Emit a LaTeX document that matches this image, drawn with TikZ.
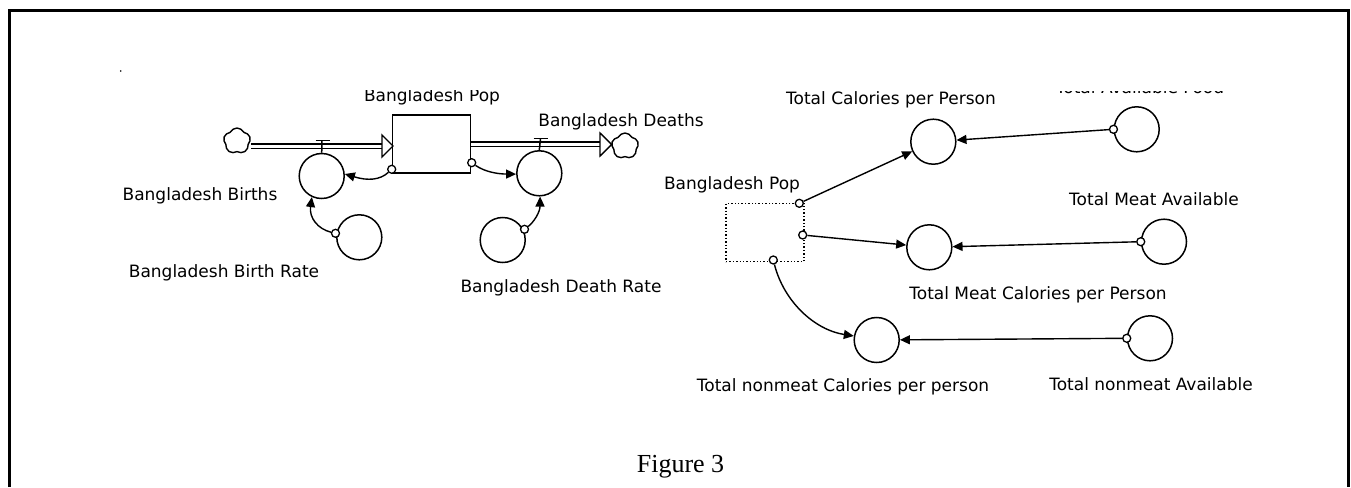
\documentclass[tikz,border=0pt]{standalone}
\usepackage{fontspec}
\setmainfont{Liberation Serif}
\newfontfamily\labfont{DejaVu Sans}
\usetikzlibrary{arrows.meta,shapes.symbols}
\begin{document}
\begin{tikzpicture}[x=1pt,y=-1pt,
  aux/.style={circle,draw,line width=1.5pt,minimum size=45pt,inner sep=0pt},
  port/.style={circle,draw,line width=1.3pt,minimum size=8pt,inner sep=0pt,fill=white},
  conn/.style={line width=1.4pt,-{Triangle[length=10pt,width=9pt]}},
  lab/.style={font=\labfont\fontsize{17}{20}\selectfont,inner sep=0pt,anchor=base},
  pipe/.style={double,double distance=3pt,line width=1.4pt},
  openhead/.style={line width=1.4pt,fill=white},
  cloudy/.style={cloud,cloud puffs=5,cloud puff arc=130,aspect=1,draw,line width=1.4pt,minimum width=27pt,minimum height=26pt,inner sep=0pt},
  stockbox/.style={draw,line width=1.5pt,minimum width=78pt,minimum height=58pt,inner sep=0pt},
  ghostbox/.style={draw,dotted,line width=1.4pt,minimum width=78pt,minimum height=58pt,inner sep=0pt}]
\useasboundingbox (0,0) rectangle (1351,487);
\fill[white] (0,0) rectangle (1351,487);
% frame
\draw[line width=3pt] (9.5,487) -- (9.5,10.5) -- (1348,10.5) -- (1348,487);
\fill (120.7,71) circle (0.9pt);

% ---------- stock and flow part ----------
\node[stockbox] (stock) at (431.5,144.2) {};
\node[lab] (stocklab) at (432,101) {Bangladesh Pop};
\fill[white] (340,75) rectangle (530,90);

\node[cloudy] (src) at (237,141) {};
\node[cloudy] (sink) at (625,146) {};

% inflow
\coordinate (inA) at (382,146);
\draw[pipe] (src.east |- inA) -- (inA);
\draw[openhead] (382,135) -- (393,146) -- (382,157) -- cycle;
% outflow
\coordinate (outA) at (600,144);
\draw[pipe] (stock.east |- outA) -- (outA);
\draw[openhead] (600,133) -- (611.7,144.5) -- (600,156) -- cycle;

% rates and converters
\node[aux] (births) at (321.7,176) {};
\node[aux] (birthrate) at (359.3,237.3) {};
\node[aux] (deaths) at (539.3,173.3) {};
\node[aux] (deathrate) at (502.7,240) {};

% valves
\coordinate (v1) at (322,140.7);
\draw[line width=1.5pt] (315.5,140.7) -- (329.5,140.7);
\draw[line width=1.5pt] (v1) -- (births.north);
\coordinate (v2) at (540.5,138.3);
\draw[line width=1.5pt] (533.5,138.3) -- (547.5,138.3);
\draw[line width=1.5pt] (v2) -- (deaths.north);

\node[lab] (birthslab) at (200,200.5) {Bangladesh Births};
\node[lab] (brlab) at (224,277) {Bangladesh Birth Rate};
\node[lab] (deathslab) at (621,126.5) {Bangladesh Deaths};
\node[lab] (drlab) at (561,292) {Bangladesh Death Rate};

% connectors
\node[port] (p1) at (391.7,169.3) {};
\node[port] (p2) at (335.5,233.3) {};
\node[port] (p3) at (471.7,162.7) {};
\node[port] (p4) at (524.5,229.3) {};
\draw[conn] (p1) .. controls (380,180) and (368,181) .. (births.5);
\draw[conn] (p2) .. controls (318,229) and (309,218) .. (births.245);
\draw[conn] (p3) .. controls (485,172) and (498,174) .. (deaths.182);
\draw[conn] (p4) .. controls (534,222) and (540,212) .. (deaths.272);

% ---------- right part ----------
\node[ghostbox] (pop2) at (765,232.5) {};
\node[lab] (pop2lab) at (732,189.5) {Bangladesh Pop};

\node[aux] (tcpp) at (933.3,141.7) {};
\node[aux] (tmcpp) at (929.3,247.3) {};
\node[aux] (tncpp) at (876.7,340) {};
\node[aux] (taf) at (1136.7,129.3) {};
\node[aux] (tma) at (1164,241.7) {};
\node[aux] (tna) at (1150,338.3) {};

\node[lab] (tcpplab) at (891,104) {Total Calories per Person};
\node[lab] (tmcpplab) at (1038,299) {Total Meat Calories per Person};
\node[lab] (tncpplab) at (843,391.7) {Total nonmeat Calories per person};
\node[lab] (tmalab) at (1154,205) {Total Meat Available};
\node[lab] (tnalab) at (1151,390) {Total nonmeat Available};
\node[lab] (taflab) at (1140,93) {Total Available Food};
\fill[white] (1040,70) rectangle (1245,90.5);

\node[port] (q1) at (799.3,203.3) {};
\node[port] (q2) at (802.7,235) {};
\node[port] (q3) at (773.3,260) {};
\node[port] (r1) at (taf.west) {};
\node[port] (r2) at (tma.west) {};
\node[port] (r3) at (tna.west) {};

\draw[conn] (q1) -- (tcpp);
\draw[conn] (q2) -- (tmcpp);
\draw[conn] (q3) .. controls (784,302) and (815,330) .. (tncpp.170);
\draw[conn] (r1) -- (tcpp);
\draw[conn] (r2) -- (tmcpp);
\draw[conn] (r3) -- (tncpp);

\node[font=\fontsize{26}{30}\selectfont,anchor=base,inner sep=0pt] (fig) at (680.5,472) {Figure 3};
\end{tikzpicture}
\end{document}
